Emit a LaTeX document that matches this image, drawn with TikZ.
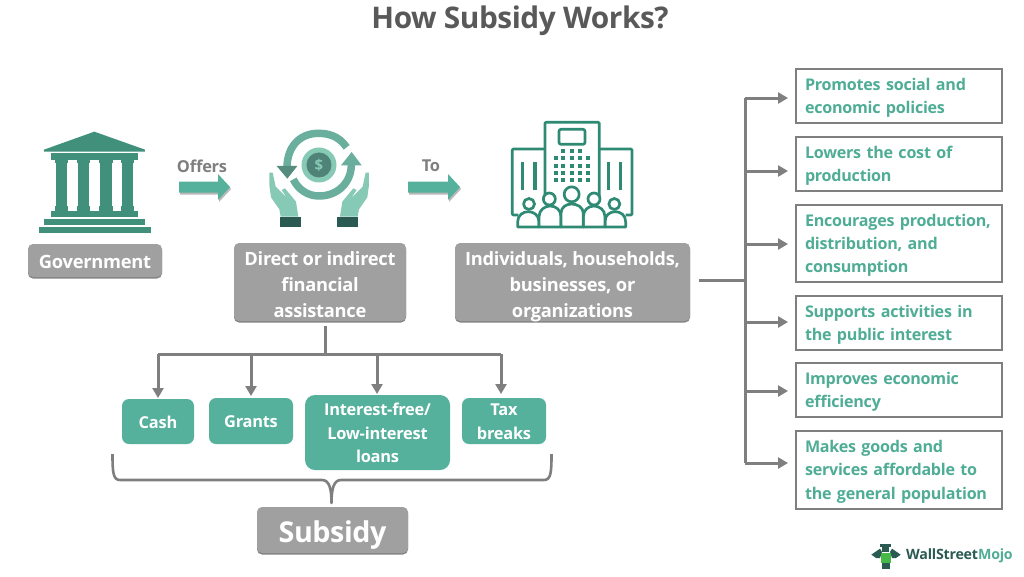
\documentclass[tikz,border=0pt]{standalone}
\usepackage{fontspec}
\setmainfont{Open Sans}[LetterSpace=-1.5]
\usetikzlibrary{arrows.meta,positioning,calc}
\definecolor{gfill}{HTML}{A0A0A0}
\definecolor{gbot}{HTML}{848484}
\definecolor{lineg}{HTML}{7F7F7F}
\definecolor{tealbox}{HTML}{55B19C}
\definecolor{tealtxt}{HTML}{4FAD96}
\definecolor{iconA}{HTML}{41907C}
\definecolor{iconB}{HTML}{2F8A73}
\definecolor{ringc}{HTML}{6AAF9E}
\definecolor{handc}{HTML}{86C9B5}
\definecolor{cuff}{HTML}{2A5A52}
\definecolor{titleg}{HTML}{595959}
\newcommand{\fsz}[2]{\fontsize{#1}{#2}\selectfont}
\newcommand{\topsth}{1.08em}
\newcommand{\topst}{\rule{0pt}{\topsth}}
\newcommand{\botst}{\rule[-0.28em]{0pt}{0.28em}}
\tikzset{
  x=1pt,y=-1pt,
  graybox/.style={rounded corners=5pt,fill=gfill,text=white,font=\renewcommand{\topsth}{1.30em}\bfseries\fsz{18.3}{25.7},align=center,inner xsep=0pt,inner ysep=-2pt,
     preaction={draw=none,fill=gbot,transform canvas={yshift=-1.5pt}}},
  tealnode/.style={rounded corners=7pt,fill=tealbox,text=white,font=\bfseries\fsz{16.4}{23.3},align=center,inner sep=0pt},
  benefit/.style={draw=lineg,line width=2pt,fill=white,text=tealtxt,font=\renewcommand{\topsth}{1.02em}\bfseries\fsz{16.1}{23.2},align=left,inner sep=0pt,text width=188pt},
  conn/.style={draw=lineg,line width=3pt},
  connarrow/.style={conn,-{Triangle[width=11pt,length=10pt]}},
  blockarrow/.style={fill=tealbox,draw=none},
  blockshadow/.style={fill=black!28,draw=none},
  arrowlabel/.style={text=lineg,font=\bfseries\fsz{16.4}{18},inner sep=0pt},
  bld/.style={draw=iconB,line width=2.7pt,line join=round,fill=white},
}
\newcommand{\boxat}[8][]{%
  \node[#2,minimum width=#5-#4,minimum height=#7-#6,#1] (#3) at ({(#4+#5)/2},{(#6+#7)/2}) {\topst #8\botst}}
\begin{document}
\begin{tikzpicture}
\useasboundingbox (0,0) rectangle (1024,576);
\fill[white] (0,0) rectangle (1024,576);

\node[text=titleg,font=\bfseries\fsz{29.8}{32},inner sep=0pt] (title) at (520,21) {How Subsidy Works?};

% gray boxes
\boxat[font=\renewcommand{\topsth}{1.19em}\bfseries\fsz{18.3}{25.7}]{graybox}{gov}{28}{162}{244}{277}{Government};
\boxat{graybox}{direct}{234}{406}{243}{321}{Direct or indirect\\financial\\assistance};
\boxat{graybox}{indiv}{455}{690}{243}{321}{Individuals, households,\\businesses, or\\organizations};
\boxat[font=\renewcommand{\topsth}{1.15em}\bfseries\fsz{28.7}{30}]{graybox}{subsidy}{257}{408}{507}{553}{Subsidy};

% teal boxes
\boxat{tealnode}{cash}{122}{194}{399}{444}{Cash};
\boxat{tealnode}{grants}{209}{293}{398}{444}{Grants};
\boxat[rounded corners=10pt]{tealnode}{loans}{305}{450}{395}{470}{Interest-free/\\Low-interest\\loans};
\boxat{tealnode}{tax}{462}{546}{398}{444}{Tax\\breaks};

% benefit boxes
\boxat{benefit}{b1}{796}{1002}{69}{123}{Promotes social and\\economic policies};
\boxat{benefit}{b2}{796}{1002}{137}{191}{Lowers the cost of\\production};
\boxat{benefit}{b3}{796}{1002}{205}{282}{Encourages production,\\distribution, and\\consumption};
\boxat{benefit}{b4}{796}{1002}{296}{350}{Supports activities in\\the public interest};
\boxat{benefit}{b5}{796}{1002}{363}{417}{Improves economic\\efficiency};
\boxat{benefit}{b6}{796}{1002}{431}{509}{Makes goods and\\services affordable to\\the general population};

% right tree
\coordinate (tr0) at (745,280);
\coordinate (tr1) at (745,98);
\coordinate (tr2) at (745,171);
\coordinate (tr3) at (745,244);
\coordinate (tr4) at (745,322);
\coordinate (tr5) at (745,391);
\coordinate (tr6) at (745,463);
\coordinate (e1) at (788,98);
\coordinate (e2) at (788,171);
\coordinate (e3) at (788,244);
\coordinate (e4) at (788,322);
\coordinate (e5) at (788,391);
\coordinate (e6) at (788,463);
\coordinate (trs) at (699,280);
\draw[conn] (trs) -- (tr0);
\draw[conn,line cap=square] (tr1) -- (tr6);
\foreach \i in {1,...,6}{\draw[connarrow] (tr\i) -- (e\i);}

% lower tree
\coordinate (hubs) at (325,326);
\coordinate (hub) at (325,354);
\coordinate (ca) at (158,354);
\coordinate (ga) at (251,354);
\coordinate (la) at (377,354);
\coordinate (ta) at (501,354);
\coordinate (ce) at (158,398);
\coordinate (ge) at (251,396);
\coordinate (le) at (377,394);
\coordinate (te) at (501,394);
\draw[conn] (hubs) -- (hub);
\draw[conn,line cap=square] (ca) -- (ta);
\draw[connarrow] (ca) -- (ce);
\draw[connarrow] (ga) -- (ge);
\draw[connarrow] (la) -- (le);
\draw[connarrow] (ta) -- (te);

% brace
\coordinate (brtip) at (331.5,503);
\draw[draw=lineg,line width=2.6pt,line join=round]
  (112.5,454) .. controls (112.5,472) and (113,480) .. (120,480)
  -- (322,480) .. controls (329,480) and (331.5,488) .. (brtip)
  .. controls (331.5,488) and (334,480) .. (341,480)
  -- (544,480) .. controls (551,480) and (551.5,472) .. (551.5,454);

% block arrows
\foreach \dx/\dy/\st in {1/2/blockshadow,0/0/blockarrow}{
  \fill[\st] (179+\dx,181.5+\dy) -- (218+\dx,181.5+\dy) -- (218+\dx,174+\dy) -- (230+\dx,187+\dy) -- (218+\dx,200+\dy) -- (218+\dx,192.5+\dy) -- (179+\dx,192.5+\dy) -- cycle;
  \fill[\st] (408+\dx,181.5+\dy) -- (448+\dx,181.5+\dy) -- (448+\dx,174+\dy) -- (460+\dx,187+\dy) -- (448+\dx,200+\dy) -- (448+\dx,192.5+\dy) -- (408+\dx,192.5+\dy) -- cycle;
}
\node[arrowlabel] (offers) at (202,166) {Offers};
\node[arrowlabel] (to) at (431,166) {To};

% government icon
\begin{scope}[shift={(0,100)},x=0.3333pt,y=-0.3333pt]
  \fill[iconA] (283,95) -- (435,149) -- (435,155) -- (132,155) -- (132,149) -- cycle;
  \fill[iconA] (152,160) rectangle (415,180);
  \foreach \a/\b in {168/200,235/268,300/335,365/400}{
    \fill[iconA] (\a,178) rectangle (\b,334);
    \fill[iconA] (\a-3,178) rectangle (\b+3,190);
    \fill[iconA] (\a-3,318) rectangle (\b+3,334);
  }
  \fill[iconA] (152,332) rectangle (415,350);
  \fill[iconA] (133,356) rectangle (435,375);
  \fill[iconA] (118,380) rectangle (452,400);
\end{scope}

% hands and coin icon
\begin{scope}[shift={(230,90)},x=0.3333pt,y=-0.3333pt]
  \foreach \m/\o in {1/0,-1/535}{
   \begin{scope}[shift={(\o,0)},x=\m*0.3333pt]
    \fill[handc] (118,248) -- (128,248) -- (137,290) -- (172,325) -- (155,300) -- (165,295) -- (198,335) -- (205,380) -- (152,380) -- (148,358) -- (123,322) -- (118,285) -- cycle;
    \fill[cuff] (150,381) rectangle (214,411);
   \end{scope}
  }
  \draw[ringc,line width=7.5pt] (350,172) .. controls (325,135) and (290,130) .. (265,130) .. controls (205,130) and (172,175) .. (171,230);
  \fill[ringc!80!black] (140,228) -- (202,228) -- (172,266) -- cycle;
  \draw[ringc,line width=7.5pt] (190,268) .. controls (205,300) and (235,318) .. (267,318) .. controls (325,318) and (365,275) .. (364,222);
  \fill[ringc] (333,226) -- (395,226) -- (365,186) -- cycle;
  \fill[handc] (267,225) circle[radius=17.5pt];
  \fill[ringc!75!black] (267,225) circle[radius=12.5pt];
  \node[text=handc,font=\bfseries\fsz{15}{15},inner sep=0pt] (dollar) at (267,225) {\$};
\end{scope}

% building icon
\begin{scope}[shift={(480,100)},x=0.3333pt,y=-0.3333pt]
  \draw[bld,fill=none,rounded corners=1pt] (195,147) -- (97,147) -- (97,345) -- (115,345);
  \draw[bld,fill=none,rounded corners=1pt] (358,147) -- (456,147) -- (456,345) -- (437,345);
  \draw[bld,fill=none,rounded corners=1pt] (195,290) -- (195,67) -- (358,67) -- (358,290);
  \draw[bld,fill=none,rounded corners=2pt] (237,88) rectangle (315,133);
  \foreach \x in {250,275,300}{\fill[iconB] (\x-6,147) rectangle (\x+6,159);}
  \foreach \y in {175,197,219,241}{\foreach \x in {227,250,275,300,325}{\fill[iconB] (\x-6,\y-6) rectangle (\x+6,\y+6);}}
  \foreach \x in {128,165,385,422}{\fill[iconB] (\x-5,187) rectangle (\x+5,270);}
  \draw[bld] (147,312) circle[radius=5.5pt];
  \draw[bld] (403,312) circle[radius=5.5pt];
  \draw[bld] (113,381) -- (113,365) .. controls (113,345) and (130,335) .. (145,335) .. controls (160,335) and (177,345) .. (177,365) -- (177,381) -- cycle;
  \draw[bld] (375,381) -- (375,365) .. controls (375,345) and (390,335) .. (406,335) .. controls (421,335) and (437,345) .. (437,365) -- (437,381) -- cycle;
  \draw[bld] (208,297) circle[radius=6pt];
  \draw[bld] (342,297) circle[radius=6pt];
  \draw[bld] (177,381) -- (177,350) .. controls (177,330) and (195,318) .. (210,318) .. controls (228,318) and (243,330) .. (243,350) -- (243,381) -- cycle;
  \draw[bld] (310,381) -- (310,350) .. controls (310,330) and (325,318) .. (342,318) .. controls (358,318) and (375,330) .. (375,350) -- (375,381) -- cycle;
  \draw[bld] (275,283) circle[radius=7.5pt];
  \draw[bld] (243,381) -- (243,340) .. controls (243,322) and (258,312) .. (275,312) .. controls (292,312) and (310,322) .. (310,340) -- (310,381) -- cycle;
\end{scope}

% logo
\begin{scope}[shift={(860,530)},x=0.3333pt,y=-0.3333pt]
  \fill[cuff] (60,42) rectangle (94,50);
  \fill[cuff] (66,50) rectangle (88,66);
  \fill[cuff] (34,74) -- (60,56) -- (66,66) -- (60,84) -- (48,84) -- cycle;
  \fill[cuff] (122,74) -- (96,56) -- (90,66) -- (96,84) -- (108,84) -- cycle;
  \fill[green!45!gray] (62,70) rectangle (94,100);
  \fill[cuff] (66,100) rectangle (90,118);
\end{scope}
\node[anchor=west,inner sep=0pt,font=\bfseries\fsz{14.2}{14},text=cuff] (logo) at (906,556) {WallStreet\textcolor{tealtxt}{Mojo}};
\end{tikzpicture}
\end{document}
